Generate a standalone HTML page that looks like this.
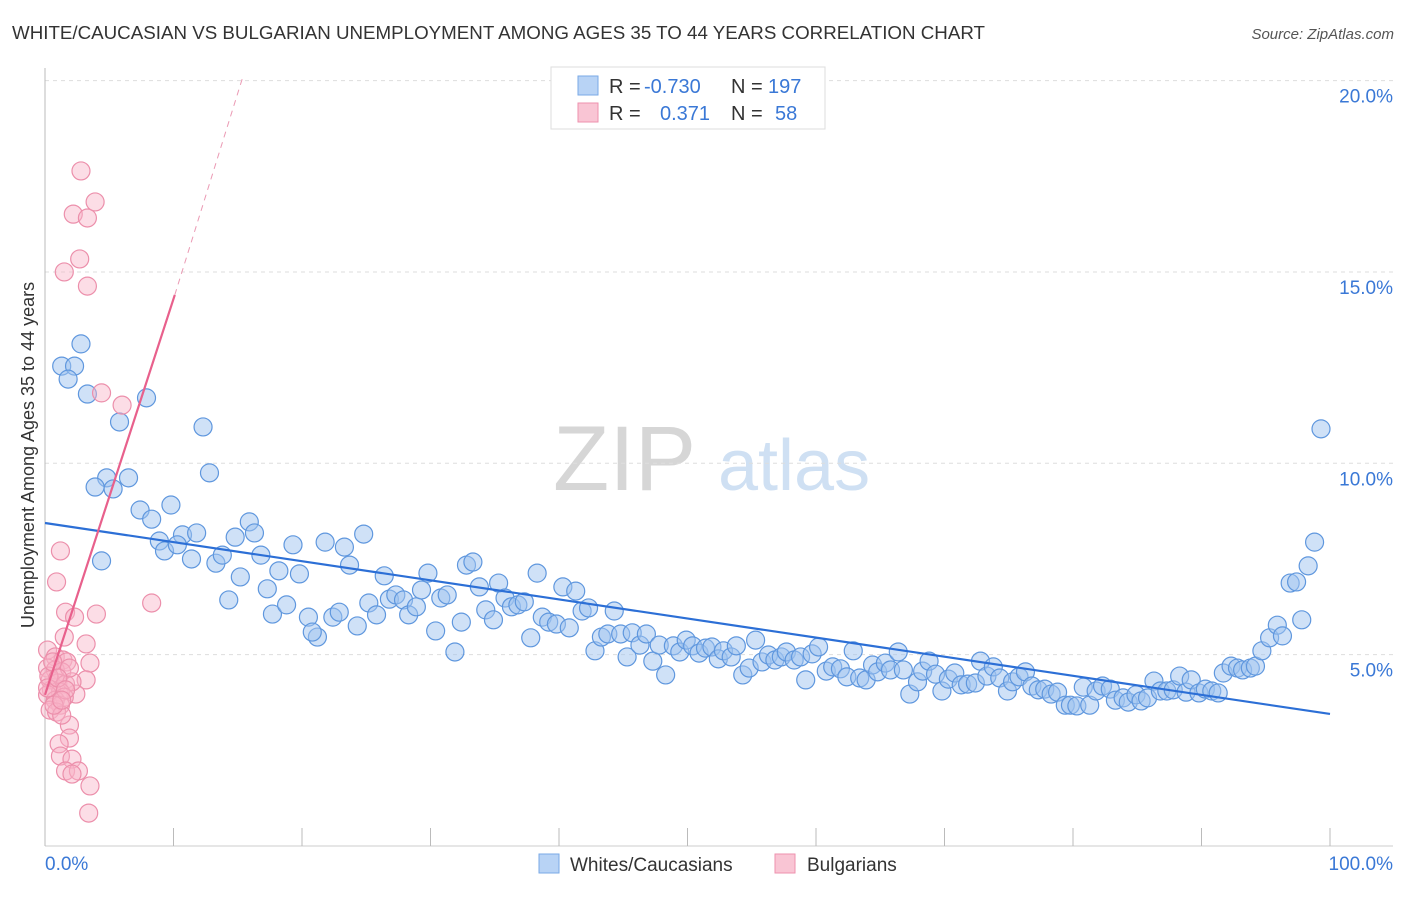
<!DOCTYPE html>
<html><head><meta charset="utf-8"><style>
body{margin:0;background:#fff;font-family:"Liberation Sans",sans-serif}
svg text{font-family:"Liberation Sans",sans-serif}
</style></head><body>
<svg width="1406" height="892" xmlns="http://www.w3.org/2000/svg">
<text x="12" y="39" font-size="18" fill="#333" textLength="973" lengthAdjust="spacingAndGlyphs">WHITE/CAUCASIAN VS BULGARIAN UNEMPLOYMENT AMONG AGES 35 TO 44 YEARS CORRELATION CHART</text>
<text x="1394" y="39" font-size="15" fill="#555" font-style="italic" text-anchor="end">Source: ZipAtlas.com</text>
<g>
<text x="553" y="490" font-size="92" fill="#d6d6d6" font-family="Liberation Serif">ZIP</text>
<text x="718" y="490" font-size="72" fill="#cfe0f3">atlas</text>
</g>
<g id="grid"></g>
<g id="axes"></g>
<g id="marks"></g>
<text transform="translate(34,455) rotate(-90)" font-size="18" fill="#333" text-anchor="middle">Unemployment Among Ages 35 to 44 years</text>
<g>
<rect x="551" y="67" width="274" height="62" fill="#fff" stroke="#ddd"/>
<rect x="578" y="76" width="20" height="19" fill="#b8d3f5" stroke="#7aa9e6"/>
<rect x="578" y="103" width="20" height="19" fill="#f9c5d4" stroke="#ee91ae"/>
<text x="609" y="93" font-size="20" fill="#333">R = <tspan fill="#3a78d6" x="644">-0.730</tspan></text>
<text x="731" y="93" font-size="20" fill="#333">N = <tspan fill="#3a78d6" x="768">197</tspan></text>
<text x="609" y="120" font-size="20" fill="#333">R = <tspan fill="#3a78d6" x="660">0.371</tspan></text>
<text x="731" y="120" font-size="20" fill="#333">N = <tspan fill="#3a78d6" x="775">58</tspan></text>
</g>
<g>
<rect x="539" y="854" width="20" height="19" fill="#b8d3f5" stroke="#7aa9e6"/>
<text x="570" y="871" font-size="19" fill="#333">Whites/Caucasians</text>
<rect x="775" y="854" width="20" height="19" fill="#f9c5d4" stroke="#ee91ae"/>
<text x="807" y="871" font-size="19" fill="#333">Bulgarians</text>
</g>
</svg>
<script>
const yTicks=[5,10,15,20];
const yTickLabels=["5.0%","10.0%","15.0%","20.0%"];
const xTicks=[0,10,20,30,40,50,60,70,80,90,100];
const xEndLabels=["0.0%","100.0%"];
const whitesX=[2.8,1.3,2.3,1.8,3.3,7.9,5.8,12.3,12.8,4.8,6.5,3.9,5.3,7.4,9.8,8.3,4.4,8.9,9.3,10.7,11.8,10.3,11.4,13.3,13.8,14.3,14.8,15.9,16.3,15.2,16.8,17.3,17.7,18.2,18.8,19.3,19.8,20.5,21.2,20.8,21.8,22.4,22.9,23.3,23.7,24.3,24.8,25.2,25.8,26.4,26.8,27.3,27.9,28.3,28.9,29.8,29.3,30.4,30.8,31.3,31.9,32.4,32.8,33.3,33.8,34.3,34.9,35.3,35.8,36.3,36.8,37.3,37.8,38.3,38.7,39.2,39.8,40.3,40.8,41.3,41.8,42.3,42.8,43.3,43.8,44.3,44.8,45.3,45.7,46.3,46.8,47.3,47.8,48.3,48.9,49.4,49.9,50.4,50.9,51.4,51.9,52.4,52.8,53.4,53.8,54.3,54.8,55.3,55.8,56.3,56.8,57.3,57.7,58.3,58.8,59.2,59.7,60.2,60.8,61.3,61.9,62.4,62.9,63.4,63.9,64.4,64.8,65.4,65.8,66.4,66.8,67.3,67.9,68.3,68.8,69.3,69.8,70.3,70.8,71.3,71.8,72.4,72.8,73.3,73.8,74.3,74.9,75.3,75.8,76.3,76.8,77.3,77.8,78.3,78.8,79.4,79.8,80.3,80.8,81.3,81.8,82.3,82.9,83.3,83.9,84.3,84.9,85.3,85.8,86.3,86.8,87.3,87.8,88.3,88.8,89.2,89.8,90.3,90.8,91.3,91.7,92.3,92.8,93.2,93.8,94.2,94.7,95.3,95.9,96.3,96.9,97.4,97.8,98.3,98.8,99.3];
const whitesY=[13.12,12.54,12.54,12.2,11.81,11.71,11.08,10.95,9.75,9.62,9.62,9.38,9.33,8.78,8.91,8.54,7.45,7.97,7.71,8.13,8.18,7.87,7.5,7.39,7.6,6.43,8.07,8.47,8.18,7.03,7.6,6.72,6.06,7.19,6.3,7.87,7.11,5.98,5.46,5.59,7.94,5.98,6.11,7.81,7.34,5.75,8.15,6.35,6.04,7.06,6.45,6.56,6.43,6.04,6.25,7.13,6.69,5.62,6.48,6.56,5.07,5.85,7.34,7.42,6.77,6.17,5.91,6.87,6.48,6.25,6.3,6.38,5.44,7.13,5.98,5.85,5.8,6.77,5.7,6.66,6.14,6.22,5.1,5.46,5.54,6.14,5.54,4.94,5.57,5.25,5.54,4.83,5.25,4.47,5.23,5.07,5.38,5.23,5.04,5.17,5.2,4.89,5.1,4.94,5.23,4.47,4.65,5.38,4.81,4.99,4.86,4.94,5.07,4.86,4.94,4.34,5.02,5.2,4.57,4.68,4.63,4.42,5.1,4.39,4.34,4.73,4.55,4.78,4.6,5.07,4.6,3.97,4.29,4.57,4.83,4.49,4.05,4.36,4.52,4.21,4.23,4.26,4.83,4.44,4.68,4.39,4.05,4.29,4.42,4.55,4.18,4.08,4.1,3.97,4.02,3.68,3.68,3.66,4.15,3.68,4.05,4.18,4.1,3.81,3.87,3.76,3.95,3.79,3.87,4.31,4.05,4.05,4.08,4.44,4.02,4.34,4.0,4.1,4.05,4.0,4.52,4.7,4.65,4.6,4.65,4.7,5.1,5.44,5.77,5.49,6.87,6.9,5.91,7.32,7.94,10.9];
const bulgX=[2.8,3.9,2.2,3.3,2.7,1.5,3.3,4.4,6.0,1.2,0.9,8.3,1.6,2.3,4.0,1.5,3.2,3.5,3.2,2.4,1.9,1.9,1.1,1.2,2.1,1.6,2.6,2.1,3.5,3.4,0.2,0.8,1.4,1.7,0.2,0.8,1.3,0.4,1.0,1.6,2.1,0.5,1.2,0.2,1.5,0.8,1.2,0.4,0.9,1.3,0.3,0.6,1.9,0.2,1.0,1.6,0.7,1.3];
const bulgY=[17.64,16.83,16.51,16.41,15.34,15.0,14.63,11.84,11.52,7.71,6.9,6.35,6.11,5.98,6.06,5.46,5.28,4.78,4.34,3.97,3.16,2.82,2.67,2.35,2.27,1.96,1.96,1.88,1.57,0.86,5.12,4.94,4.86,4.81,4.65,4.6,4.55,4.34,4.26,4.23,4.29,4.08,4.02,3.95,3.89,3.81,3.68,3.55,3.5,3.42,4.44,4.81,4.65,4.13,4.39,4.08,3.68,3.81];
const blueTrend=[[0,8.44],[100,3.45]];
const pinkTrendSolid=[[0,3.95],[10.1,14.4]];
const pinkTrendDashed=[[10.1,14.4],[15.4,20.1]];

const NS="http://www.w3.org/2000/svg";
const X0=45,X1=1330,Y0=846,PY=38.27;
const sx=v=>X0+(X1-X0)*v/100;
const sy=v=>Y0-v*PY;
function mk(tag,attrs,parent){const e=document.createElementNS(NS,tag);for(const k in attrs)e.setAttribute(k,attrs[k]);document.getElementById(parent).appendChild(e);return e;}
yTicks.forEach((t,i)=>{
  const g=mk('line',{x1:45,x2:1393,y1:sy(t),y2:sy(t),stroke:'#ddd','stroke-dasharray':'4,4'},'grid');
  
  
  const l=mk('text',{x:1393,y:sy(t)+22,'font-size':19,fill:'#3a78d6','text-anchor':'end'},'grid');
  l.textContent=yTickLabels[i];
  
  
});
const ya=mk('line',{x1:45,x2:45,y1:68,y2:846,stroke:'#bbb'},'axes');


const xa=mk('line',{x1:45,x2:1393,y1:846,y2:846,stroke:'#ccc'},'axes');


xTicks.forEach(t=>{
  const k=mk('line',{x1:sx(t),x2:sx(t),y1:828,y2:846,stroke:'#bbb'},'axes');
  
  
});
const xl0=mk('text',{x:45,y:870,'font-size':19,fill:'#3a78d6'},'axes');
xl0.textContent=xEndLabels[0];


const xl1=mk('text',{x:1393,y:870,'font-size':19,fill:'#3a78d6','text-anchor':'end'},'axes');
xl1.textContent=xEndLabels[1];


whitesX.forEach((x,i)=>{
  const c=mk('circle',{cx:sx(x),cy:sy(whitesY[i]),r:9,fill:'rgba(160,196,240,0.5)',stroke:'#5f97de','stroke-width':1.2},'marks');
  
  
});
bulgX.forEach((x,i)=>{
  const c=mk('circle',{cx:sx(x),cy:sy(bulgY[i]),r:9,fill:'rgba(248,180,200,0.45)',stroke:'#ec8fab','stroke-width':1.2},'marks');
  
  
});
const bt=mk('line',{x1:sx(blueTrend[0][0]),y1:sy(blueTrend[0][1]),x2:sx(blueTrend[1][0]),y2:sy(blueTrend[1][1]),stroke:'#2c6fd6','stroke-width':2.2},'marks');


const pt=mk('line',{x1:sx(pinkTrendSolid[0][0]),y1:sy(pinkTrendSolid[0][1]),x2:sx(pinkTrendSolid[1][0]),y2:sy(pinkTrendSolid[1][1]),stroke:'#e8608c','stroke-width':2.2},'marks');


const pd=mk('line',{x1:sx(pinkTrendDashed[0][0]),y1:sy(pinkTrendDashed[0][1]),x2:sx(pinkTrendDashed[1][0]),y2:sy(pinkTrendDashed[1][1]),stroke:'#eb9ab4','stroke-width':1,'stroke-dasharray':'6,5'},'marks');


</script>
</body></html>
